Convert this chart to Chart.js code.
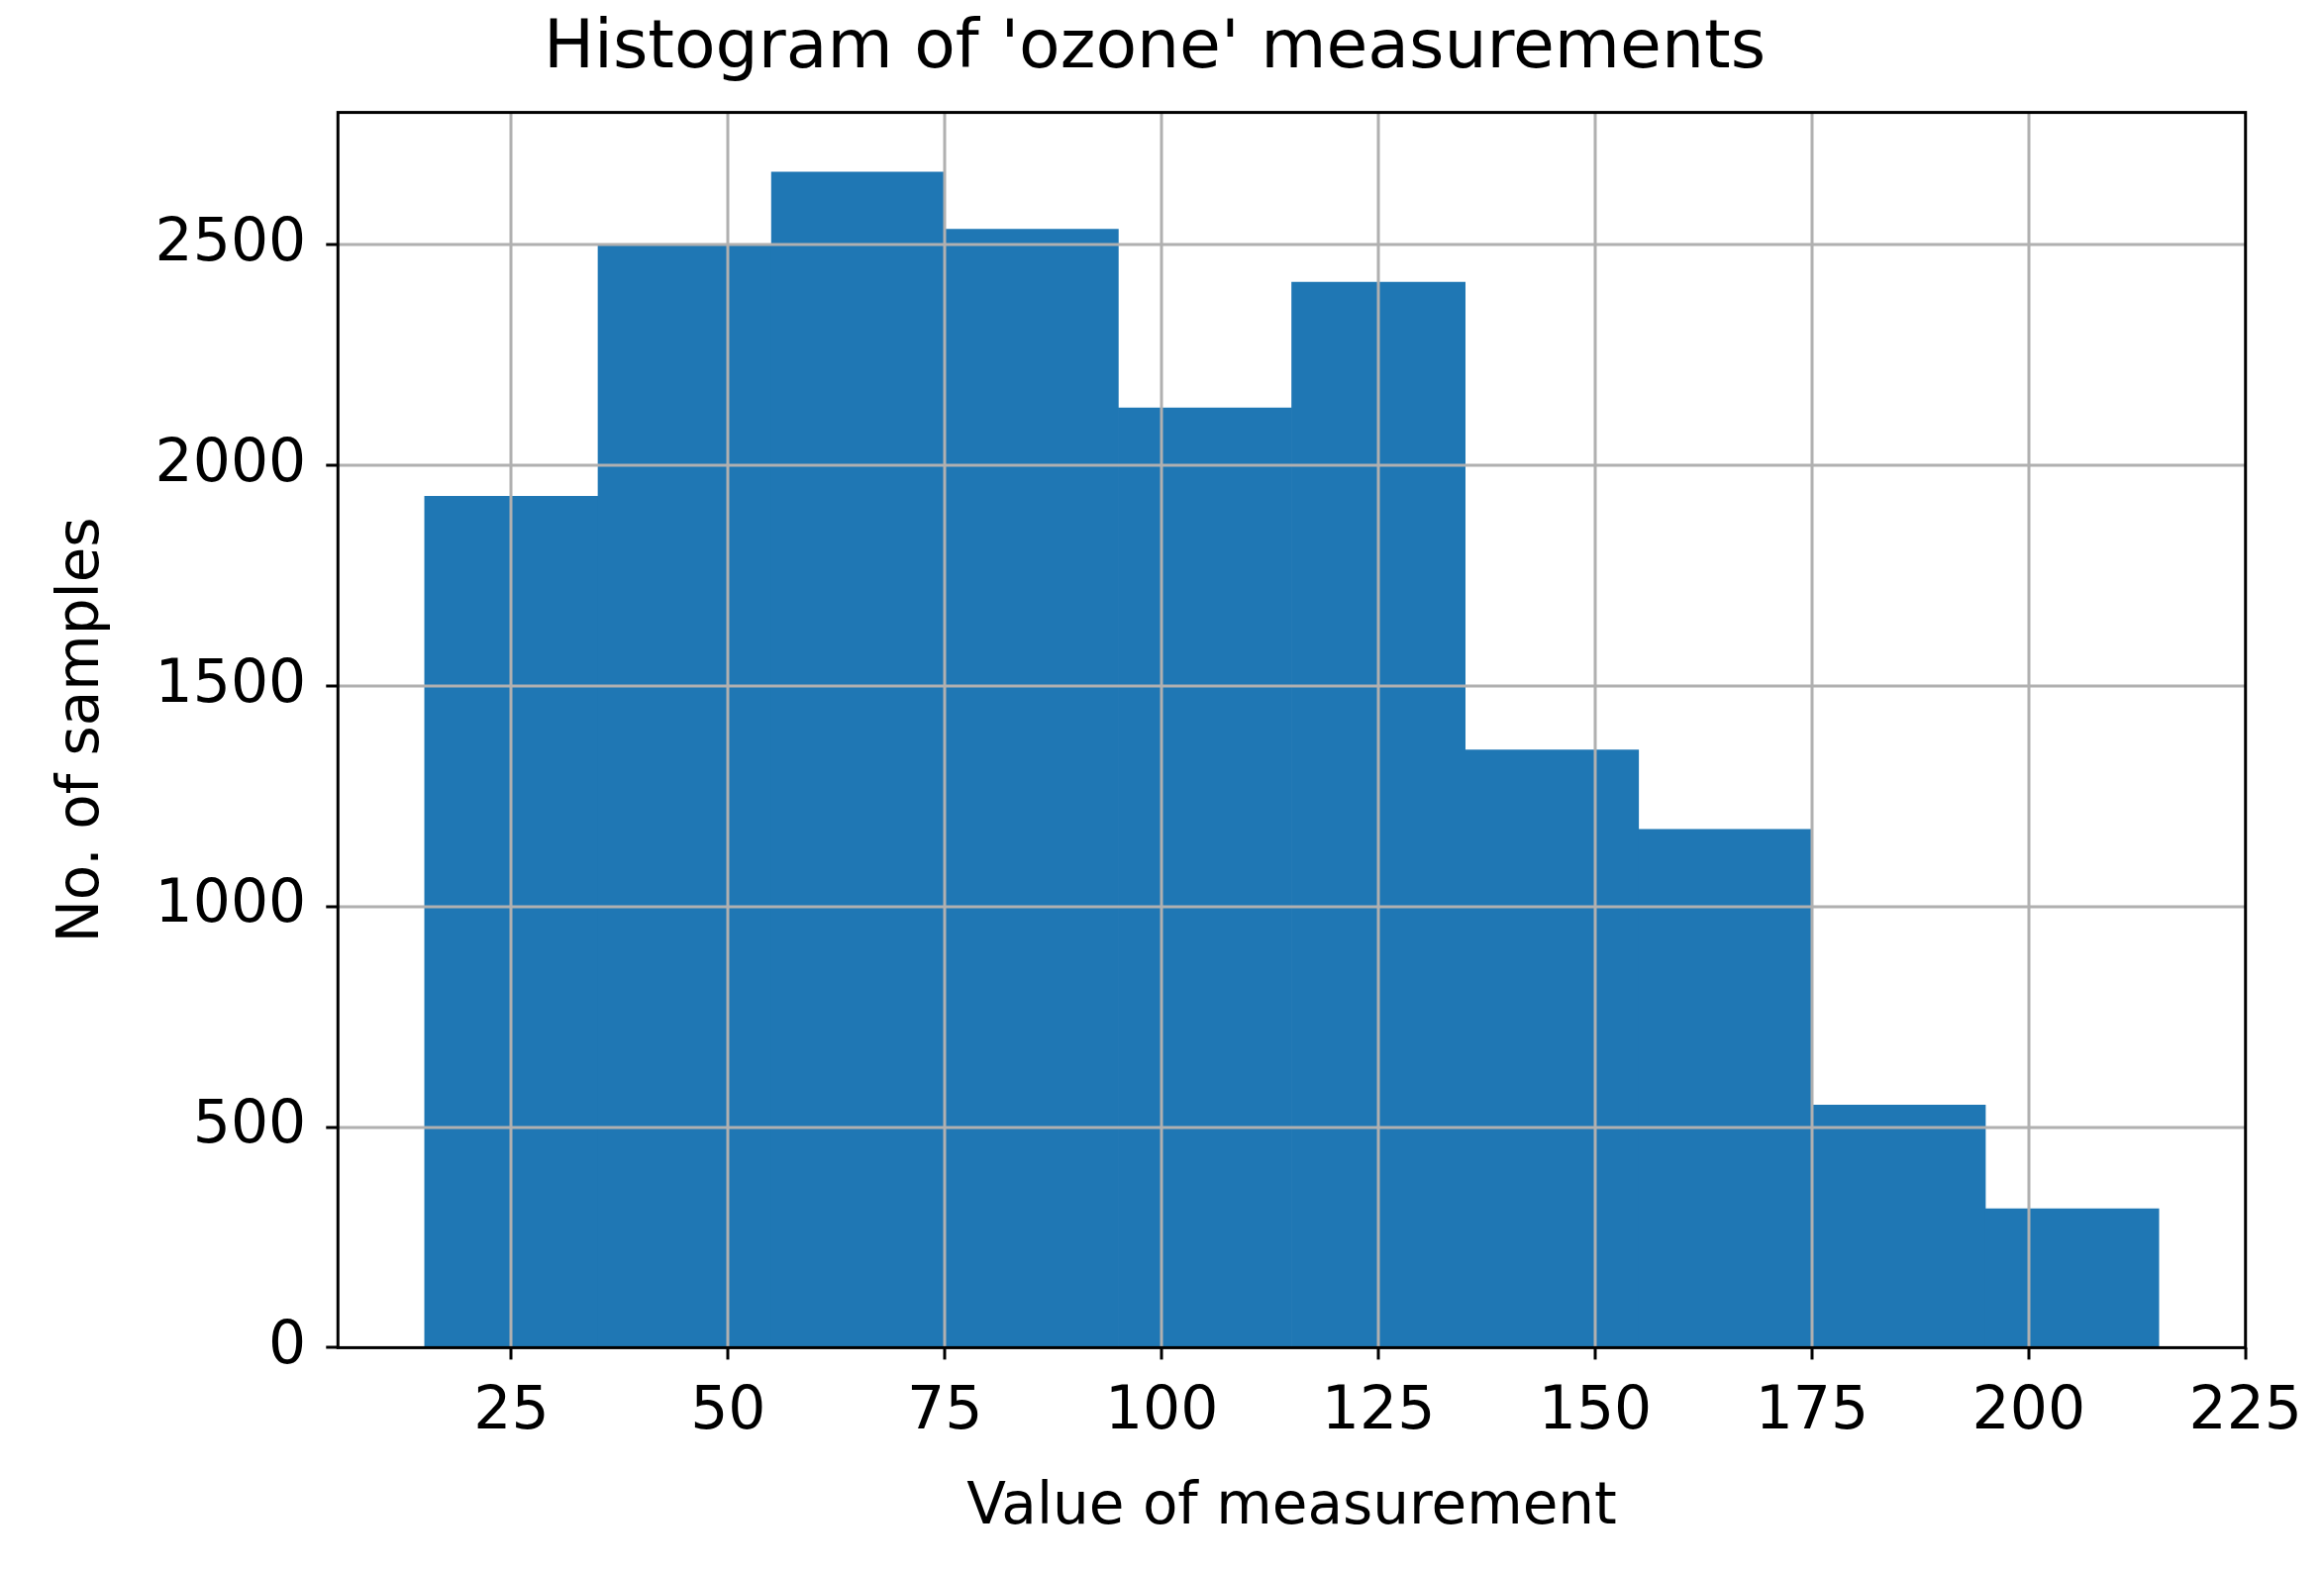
<!DOCTYPE html>
<html><head><meta charset="utf-8">
<script src="https://cdn.jsdelivr.net/npm/chart.js@4"></script>
<style>html,body{margin:0;padding:0;background:#fff}#c{display:block}</style>
</head><body>
<div style="width:2347px;height:1587px"><canvas id="c"></canvas></div>
<script>
const binEdges = [15,35,55,75,95,115,135,155,175,195,215];
const counts = [1930,2500,2665,2535,2130,2415,1355,1175,550,315];
const xTicks = [25,50,75,100,125,150,175,200,225];
const yTicks = [0,500,1000,1500,2000,2500];
const FONT = 'DejaVu Sans';
const data = counts.map((v,i)=>({x:(binEdges[i]+binEdges[i+1])/2, y:v}));
const gridPlugin = {
  id:'grid',
  afterDatasetsDraw(chart){
    const {ctx, chartArea:a, scales:{x,y}} = chart;
    ctx.save();
    ctx.strokeStyle='#b0b0b0'; ctx.lineWidth=3;
    xTicks.forEach(t=>{const p=Math.round(x.getPixelForValue(t)); if(p>a.left+1&&p<a.right-1){ctx.beginPath();ctx.moveTo(p,a.top);ctx.lineTo(p,a.bottom);ctx.stroke();}});
    yTicks.forEach(t=>{const p=Math.round(y.getPixelForValue(t)); if(p>a.top+1&&p<a.bottom-1){ctx.beginPath();ctx.moveTo(a.left,p);ctx.lineTo(a.right,p);ctx.stroke();}});
    ctx.strokeStyle='#000'; ctx.lineWidth=3;
    xTicks.forEach(t=>{const p=Math.round(x.getPixelForValue(t));ctx.beginPath();ctx.moveTo(p,a.bottom);ctx.lineTo(p,a.bottom+12);ctx.stroke();});
    yTicks.forEach(t=>{const p=Math.round(y.getPixelForValue(t));ctx.beginPath();ctx.moveTo(a.left,p);ctx.lineTo(a.left-12,p);ctx.stroke();});
    ctx.strokeRect(a.left,a.top,a.right-a.left,a.bottom-a.top);
    ctx.restore();
  }
};
new Chart(document.getElementById('c'),{
  type:'bar',
  data:{datasets:[{data, backgroundColor:'#1f77b4', barPercentage:1, categoryPercentage:1, borderWidth:0}]},
  options:{
    responsive:true, maintainAspectRatio:false, animation:false,
    layout:{padding:{left:45,right:60,top:10,bottom:24}},
    plugins:{legend:{display:false},tooltip:{enabled:false},
      title:{display:true,text:"Histogram of 'ozone' measurements",color:'#000',font:{family:FONT,size:68,weight:'normal'},padding:{top:0,bottom:22}}},
    scales:{
      x:{type:'linear',min:5,max:225,offset:false,
        afterBuildTicks(s){s.ticks=xTicks.map(v=>({value:v}));},
        grid:{display:false},border:{display:false},
        ticks:{color:'#000',font:{family:FONT,size:60},maxRotation:0,padding:22},
        title:{display:true,text:'Value of measurement',color:'#000',font:{family:FONT,size:58},padding:{top:4}}},
      y:{min:0,max:2800,
        afterBuildTicks(s){s.ticks=yTicks.map(v=>({value:v}));},
        grid:{display:false},border:{display:false},
        ticks:{color:'#000',font:{family:FONT,size:60},padding:24,callback:v=>String(v)},
        title:{display:true,text:'No. of samples',color:'#000',font:{family:FONT,size:58},padding:{bottom:14}}}
    }
  },
  plugins:[gridPlugin]
});
</script></body></html>
